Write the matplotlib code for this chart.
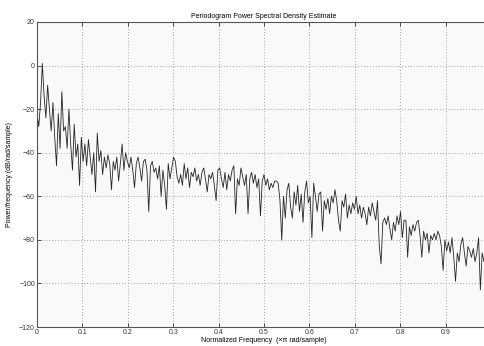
import numpy as np
import matplotlib
matplotlib.use("Agg")
import matplotlib.pyplot as plt

# Periodogram estimate, one value per bin (dB/rad/sample)
n_bins = 257
psd_db = [
    -22, -28, -17, 1, -14, -24, -9, -20, -30, -17, -33, -46, -22, -38, -12, -30,
    -28, -38, -20, -36, -48, -27, -42, -36, -55, -33, -44, -36, -46, -34, -42, -50,
    -40, -58, -31, -44, -39, -50, -42, -47, -41, -45, -57, -44, -48, -42, -53, -45,
    -36, -48, -40, -44, -47, -42, -48, -56, -45, -42, -47, -53, -44, -43, -48, -67,
    -46, -44, -49, -47, -52, -46, -60, -48, -55, -66, -45, -52, -47, -42, -44, -51,
    -54, -50, -55, -45, -52, -47, -56, -49, -51, -47, -53, -50, -55, -49, -47, -52,
    -58, -50, -52, -49, -55, -62, -48, -47, -52, -56, -49, -57, -50, -53, -48, -46,
    -68, -52, -55, -47, -51, -55, -50, -68, -52, -49, -54, -50, -56, -52, -69, -53,
    -50, -55, -52, -57, -54, -56, -53, -53, -54, -62, -80, -60, -70, -57, -54, -65,
    -70, -58, -64, -55, -67, -59, -72, -58, -53, -63, -60, -79, -54, -60, -67, -59,
    -58, -76, -62, -66, -61, -68, -60, -63, -57, -62, -71, -76, -62, -65, -59, -70,
    -64, -68, -63, -66, -60, -68, -64, -70, -65, -68, -73, -65, -69, -63, -67, -71,
    -62, -83, -91, -72, -70, -73, -69, -75, -80, -72, -76, -69, -73, -67, -79, -71,
    -71, -88, -74, -78, -73, -76, -72, -71, -78, -88, -76, -80, -77, -86, -78, -80,
    -77, -80, -76, -78, -83, -94, -80, -85, -81, -86, -79, -88, -99, -86, -90, -82,
    -79, -86, -92, -83, -85, -88, -84, -90, -86, -79, -103, -86, -90, -84, -88, -85,
    -87,
]
freq = np.linspace(0, 1, n_bins)

x_ticks = [0, 0.1, 0.2, 0.3, 0.4, 0.5, 0.6, 0.7, 0.8, 0.9]
x_labels = ["0", "0.1", "0.2", "0.3", "0.4", "0.5", "0.6", "0.7", "0.8", "0.9"]
y_ticks = [-120, -100, -80, -60, -40, -20, 0, 20]

plt.rcParams["font.family"] = ["Liberation Sans", "DejaVu Sans"]

fig = plt.figure(figsize=(4.84, 3.46), dpi=100)
fig.patch.set_facecolor("white")
# right edge of the axes sits past the figure edge, as in the reference crop
ax = fig.add_axes([37 / 484, 19 / 346, 454 / 484, 305 / 346])
ax.set_facecolor("#f9f9f9")

ax.plot(freq, psd_db, color="#262626", linewidth=0.6)

ax.set_xlim(0, 1)
ax.set_ylim(-120, 20)
ax.set_xticks(x_ticks)
ax.set_xticklabels(x_labels)
ax.set_yticks(y_ticks)

ax.grid(True, color="#8c8c8c", linestyle=(0, (1, 2.5)), linewidth=0.6)
ax.tick_params(direction="in", length=3, width=0.6, labelsize=5,
               top=True, right=True, pad=1.5, colors="#333333")
for sp in ax.spines.values():
    sp.set_color("#555555")
    sp.set_linewidth(0.8)

ax.set_title("Periodogram Power Spectral Density Estimate", fontsize=5, pad=3)
ax.set_xlabel("Normalized Frequency  (\u00d7\u03c0 rad/sample)", fontsize=5, labelpad=0.5)
ax.set_ylabel("Power/frequency (dB/rad/sample)", fontsize=5, labelpad=4)

fig.savefig("out.png", dpi=100)
